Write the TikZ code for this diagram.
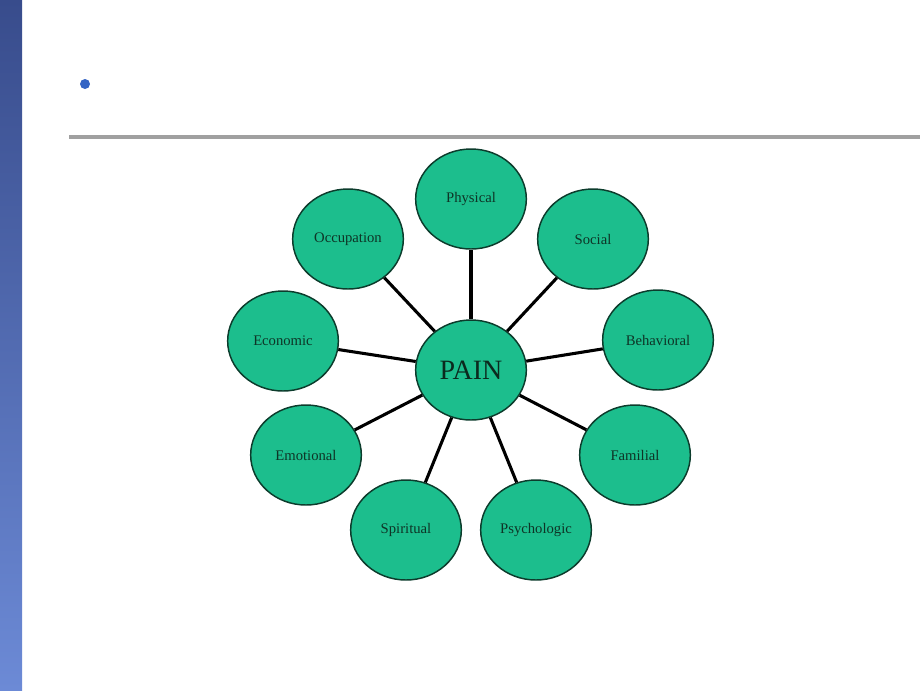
\documentclass[tikz,border=0pt]{standalone}
\usepackage{fontspec}
\setmainfont{Liberation Serif}
\usetikzlibrary{shapes.geometric}
\definecolor{bubble}{RGB}{28,190,141}
\definecolor{rim}{RGB}{12,60,44}
\definecolor{ink}{RGB}{14,52,38}
\definecolor{bardark}{RGB}{56,76,140}
\definecolor{barlight}{RGB}{108,138,214}
\definecolor{dotblue}{RGB}{52,100,196}
\definecolor{rule}{RGB}{160,160,160}
\begin{document}
\begin{tikzpicture}[x=0.75pt,y=-0.75pt,
	bub/.style={ellipse,draw=rim,line width=1.1pt,fill=bubble,text=ink,
		minimum width=83pt,minimum height=75pt,inner sep=0pt,
		font=\fontsize{11}{13}\selectfont},
	hub/.style={bub,font=\fontsize{21}{24}\selectfont,text=ink!80!black},
	spoke/.style={draw=black,line width=2.3pt}]
	\useasboundingbox (0,0) rectangle (920,690);
	% side bar, bullet and rule
	\shade [top color=bardark,bottom color=barlight] (0,0) rectangle (22,690);
	\fill [dotblue] (85,84) circle (5);
	\draw [rule,line width=2.3pt] (69,137) -- (920,137);
	% hub
	\node [hub] (pain) at (471,370) {PAIN};
	% outer bubbles
	\node [bub] (physical) at (471,199) {Physical};
	\node [bub] (social) at (593,239) {Social};
	\node [bub] (behavioral) at (658,340) {Behavioral};
	\node [bub] (familial) at (635,455) {Familial};
	\node [bub] (psychologic) at (536,530) {Psychologic};
	\node [bub] (spiritual) at (406,530) {Spiritual};
	\node [bub] (emotional) at (306,455) {Emotional};
	\node [bub] (economic) at (283,341) {Economic};
	\node [bub] (occupation) at (348,239) {Occupation};
	% spokes
	\foreach \n in {physical,social,behavioral,familial,psychologic,spiritual,emotional,economic,occupation}
		\draw [spoke] (pain) -- (\n);
\end{tikzpicture}
\end{document}
